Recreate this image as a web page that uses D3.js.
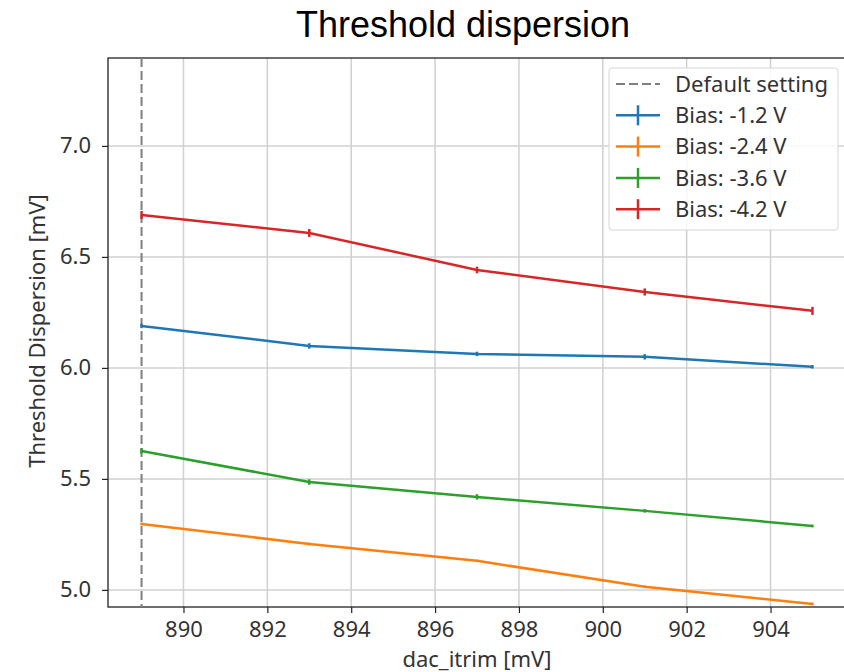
<!DOCTYPE html>
<html>
<head>
<meta charset="utf-8">
<script src="https://cdn.jsdelivr.net/npm/d3@7"></script>
<style>
  body { margin: 0; background: #fff; }
  text { font-family: "Noto Sans", "Open Sans", sans-serif; fill: #333; }
</style>
</head>
<body>
<svg id="chart"></svg>
<script>
// data
var dacItrim = [889, 893, 897, 901, 905];
var defaultSetting = 889;
var seriesNames = ['Bias: -1.2 V', 'Bias: -2.4 V', 'Bias: -3.6 V', 'Bias: -4.2 V'];
var bias12 = [6.189, 6.099, 6.063, 6.050, 6.005];
var bias24 = [5.297, 5.207, 5.131, 5.014, 4.937];
var bias36 = [5.626, 5.486, 5.419, 5.356, 5.288];
var bias42 = [6.689, 6.608, 6.441, 6.342, 6.257];
var err12 = [0.010, 0.012, 0.010, 0.012, 0.008];
var err24 = [0.006, 0.006, 0.005, 0.006, 0.006];
var err36 = [0.012, 0.012, 0.012, 0.008, 0.006];
var err42 = [0.018, 0.018, 0.015, 0.016, 0.018];
var xTicks = [890, 892, 894, 896, 898, 900, 902, 904];
var yTicks = [5.0, 5.5, 6.0, 6.5, 7.0];
var colors = ['#1f77b4', '#ff7f0e', '#2ca02c', '#d62728'];

// plot box (window.top is read-only, so prefixed names)
var width = 844,
	height = 672,
	plotLeft = 108, plotRight = 846, plotTop = 58, plotBottom = 607;

var svg = d3.select('#chart')
	.attr('width', width)
	.attr('height', height);

var x = d3.scaleLinear().domain([888.2, 905.8]).range([plotLeft, plotRight]);
var y = d3.scaleLinear().domain([4.923, 7.396]).range([plotBottom, plotTop]);

// grid
svg.append('g').selectAll('line')
	.data(xTicks).enter().append('line')
		.attr('x1', function(d) { return x(d); })
		.attr('x2', function(d) { return x(d); })
		.attr('y1', plotTop).attr('y2', plotBottom)
		.attr('stroke', '#d0d0d0').attr('stroke-width', 1.5);
svg.append('g').selectAll('line')
	.data(yTicks).enter().append('line')
		.attr('y1', function(d) { return y(d); })
		.attr('y2', function(d) { return y(d); })
		.attr('x1', plotLeft).attr('x2', plotRight)
		.attr('stroke', '#d0d0d0').attr('stroke-width', 1.5);

// axes
var xAxis = svg.append('g')
	.attr('transform', 'translate(0,' + plotBottom + ')')
	.call(d3.axisBottom(x).tickValues(xTicks).tickSize(6).tickPadding(8).tickFormat(d3.format('d')));
var yAxis = svg.append('g')
	.attr('transform', 'translate(' + plotLeft + ',0)')
	.call(d3.axisLeft(y).tickValues(yTicks).tickSize(6).tickPadding(11).tickFormat(d3.format('.1f')));
[xAxis, yAxis].forEach(function(a) {
	a.selectAll('text').style('font-size', '22px').attr('fill', '#333');
	a.selectAll('line').attr('stroke', '#222').attr('stroke-width', 1.2);
	a.select('.domain').remove();
});

// frame
svg.append('rect')
	.attr('x', plotLeft).attr('y', plotTop)
	.attr('width', plotRight - plotLeft).attr('height', plotBottom - plotTop)
	.attr('fill', 'none').attr('stroke', '#222').attr('stroke-width', 1.3);

// default setting line
svg.append('line')
	.attr('x1', x(defaultSetting)).attr('x2', x(defaultSetting))
	.attr('y1', plotTop).attr('y2', plotBottom)
	.attr('stroke', '#7f7f7f').attr('stroke-width', 2)
	.attr('stroke-dasharray', '9,4');

// series
var allValues = [bias12, bias24, bias36, bias42];
var allErrors = [err12, err24, err36, err42];
var line = d3.line()
	.x(function(d) { return x(d.x); })
	.y(function(d) { return y(d.y); });

allValues.forEach(function(vals, s) {
	var pts = vals.map(function(v, i) {
		return { x: dacItrim[i], y: v, e: allErrors[s][i] };
	});
	var g = svg.append('g');
	g.append('path')
		.datum(pts)
		.attr('d', line)
		.attr('fill', 'none')
		.attr('stroke', colors[s])
		.attr('stroke-width', 2.5);
	g.selectAll('.err')
		.data(pts)
		.enter().append('line')
			.attr('class', 'err')
			.attr('x1', function(d) { return x(d.x); })
			.attr('x2', function(d) { return x(d.x); })
			.attr('y1', function(d) { return y(d.y - d.e); })
			.attr('y2', function(d) { return y(d.y + d.e); })
			.attr('stroke', colors[s])
			.attr('stroke-width', 2.5);
});

// legend
var lg = svg.append('g');
lg.append('rect')
	.attr('x', 609).attr('y', 68)
	.attr('width', 229).attr('height', 162)
	.attr('rx', 3)
	.attr('fill', 'white').attr('fill-opacity', 0.85)
	.attr('stroke', '#d6d6d6');
var legendItems = ['Default setting'].concat(seriesNames);
legendItems.forEach(function(name, i) {
	var ly = 84 + i * 31.3;
	if (i === 0) {
		lg.append('line')
			.attr('x1', 616).attr('x2', 660)
			.attr('y1', ly).attr('y2', ly)
			.attr('stroke', '#7f7f7f').attr('stroke-width', 2)
			.attr('stroke-dasharray', '9,4');
	} else {
		lg.append('line')
			.attr('x1', 616).attr('x2', 660)
			.attr('y1', ly).attr('y2', ly)
			.attr('stroke', colors[i - 1]).attr('stroke-width', 2.5);
		lg.append('line')
			.attr('x1', 638).attr('x2', 638)
			.attr('y1', ly - 10).attr('y2', ly + 10)
			.attr('stroke', colors[i - 1]).attr('stroke-width', 2.5);
	}
	lg.append('text')
		.attr('x', 675).attr('y', ly)
		.attr('dy', '0.35em')
		.style('font-size', '22px')
		.text(name);
});

// titles
svg.append('text')
	.attr('x', 463).attr('y', 37)
	.attr('text-anchor', 'middle')
	.style('font-family', '"Liberation Sans", Arial, sans-serif')
	.style('font-size', '36px')
	.style('fill', '#000')
	.text('Threshold dispersion');
svg.append('text')
	.attr('x', 477).attr('y', 667)
	.attr('text-anchor', 'middle')
	.style('font-size', '22px')
	.text('dac_itrim [mV]');
svg.append('text')
	.attr('transform', 'translate(45,331) rotate(-90)')
	.attr('text-anchor', 'middle')
	.style('font-size', '22px')
	.text('Threshold Dispersion [mV]');
</script>
</body>
</html>
